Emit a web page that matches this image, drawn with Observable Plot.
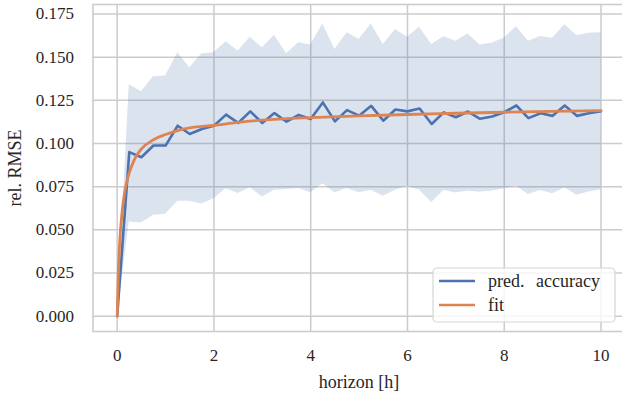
<!DOCTYPE html>
<html><head><meta charset="utf-8">
<script src="https://cdn.jsdelivr.net/npm/d3@7"></script>
<script src="https://cdn.jsdelivr.net/npm/@observablehq/plot@0.6"></script>
<style>
body{margin:0;background:#fff;overflow:hidden}
#chart svg{font-family:"Liberation Serif",serif}
</style>
</head><body><div id="chart"></div>
<script>
const horizon = [0, 0.25, 0.5, 0.75, 1, 1.25, 1.5, 1.75, 2, 2.25, 2.5, 2.75, 3, 3.25, 3.5, 3.75, 4, 4.25, 4.5, 4.75, 5, 5.25, 5.5, 5.75, 6, 6.25, 6.5, 6.75, 7, 7.25, 7.5, 7.75, 8, 8.25, 8.5, 8.75, 9, 9.25, 9.5, 9.75, 10];
const accuracy = [0, 0.095, 0.092, 0.0988, 0.0988, 0.1103, 0.1055, 0.1084, 0.1103, 0.1167, 0.1119, 0.1186, 0.1119, 0.1176, 0.1126, 0.1165, 0.1142, 0.1238, 0.1128, 0.1193, 0.1161, 0.1218, 0.1132, 0.1197, 0.1186, 0.1203, 0.1113, 0.118, 0.1152, 0.1185, 0.1143, 0.1156, 0.1181, 0.122, 0.1147, 0.1175, 0.116, 0.122, 0.116, 0.1175, 0.1187];
const upper = [0, 0.134, 0.130, 0.1387, 0.1391, 0.1525, 0.1439, 0.152, 0.1525, 0.1589, 0.1535, 0.1616, 0.1554, 0.1627, 0.152, 0.1583, 0.157, 0.1692, 0.1545, 0.1641, 0.1602, 0.1692, 0.1573, 0.166, 0.1616, 0.1673, 0.1573, 0.1618, 0.1592, 0.1634, 0.157, 0.1582, 0.1609, 0.1676, 0.1592, 0.1619, 0.1609, 0.1688, 0.1626, 0.1638, 0.1642];
const lower = [0, 0.0545, 0.054, 0.0584, 0.059, 0.0665, 0.0666, 0.065, 0.068, 0.0738, 0.071, 0.0744, 0.069, 0.0729, 0.0733, 0.0739, 0.0714, 0.0767, 0.0714, 0.0739, 0.0714, 0.0729, 0.0694, 0.0729, 0.0752, 0.0729, 0.0658, 0.0728, 0.0713, 0.0725, 0.0717, 0.0725, 0.0738, 0.0752, 0.0705, 0.0728, 0.0709, 0.0744, 0.07, 0.0719, 0.0732];
const fitHorizon = [0, 0.02, 0.05, 0.1, 0.15, 0.2, 0.25, 0.3, 0.4, 0.5, 0.75, 1, 1.25, 1.5, 2, 2.5, 3, 4, 5, 6, 7, 8, 9, 10];
const fitValue = [0, 0.022, 0.042, 0.060, 0.071, 0.078, 0.083, 0.087, 0.093, 0.0968, 0.1022, 0.1052, 0.1075, 0.109, 0.1105, 0.1122, 0.1135, 0.115, 0.116, 0.1168, 0.1175, 0.1181, 0.1186, 0.119];
const xTicks = [0, 2, 4, 6, 8, 10];
const yTicks = [0, 0.025, 0.05, 0.075, 0.1, 0.125, 0.15, 0.175];
const xLabel = "horizon [h]";
const yLabel = "rel. RMSE";
const seriesNames = ["pred. accuracy", "fit"];
const colors = ["#4c72b0", "#dd8452"];

const data = horizon.map((h, i) => ({h, acc: accuracy[i], lo: lower[i], hi: upper[i]}));
const fit = fitHorizon.map((h, i) => ({h, v: fitValue[i]}));
const ink = "#262626";

const plot = Plot.plot({
  width: 622, height: 398,
  marginLeft: 92.5, marginRight: -2.7, marginTop: 4, marginBottom: 67,
  style: {fontFamily: "'Liberation Serif', serif", fontSize: "17px", background: "#fff", color: ink},
  x: {domain: [-0.5, 10.5]},
  y: {domain: [-0.0089, 0.1805]},
  marks: [
    Plot.gridX({ticks: xTicks, stroke: "#cccccc", strokeOpacity: 1, strokeWidth: 1.5}),
    Plot.gridY({ticks: yTicks, stroke: "#cccccc", strokeOpacity: 1, strokeWidth: 1.5}),
    Plot.areaY(data, {x: "h", y1: "lo", y2: "hi", fill: colors[0], fillOpacity: 0.2}),
    Plot.line(data, {x: "h", y: "acc", stroke: colors[0], strokeWidth: 2.6}),
    Plot.line(fit, {x: "h", y: "v", stroke: colors[1], strokeWidth: 2.8, curve: "monotone-x"}),
    Plot.frame({stroke: "#cccccc", strokeWidth: 1.6}),
    Plot.axisX({ticks: xTicks, tickSize: 0, tickPadding: 17, label: null, tickFormat: d => String(d), fill: ink}),
    Plot.axisY({ticks: yTicks, tickSize: 0, tickPadding: 19, label: null, tickFormat: d => d.toFixed(3), fill: ink}),
    Plot.text([xLabel], {frameAnchor: "bottom", dy: 51, lineAnchor: "middle", textAnchor: "middle", fontSize: 18, text: d => d, fill: ink}),
    Plot.text([yLabel], {frameAnchor: "left", dx: -78, rotate: -90, lineAnchor: "middle", textAnchor: "middle", fontSize: 18, text: d => d, fill: ink})
  ]
});
document.getElementById("chart").appendChild(plot);

// legend inside the plot area (lower right)
const svg = d3.select(plot);
const lg = svg.append("g").attr("text-anchor", "start");
lg.append("rect").attr("x", 433).attr("y", 268).attr("width", 182).attr("height", 54)
  .attr("rx", 4).attr("fill", "#fff").attr("fill-opacity", 0.8)
  .attr("stroke", "#d6d6d6").attr("stroke-width", 1.2);
seriesNames.forEach((name, i) => {
  const yy = 281 + i * 24;
  lg.append("line").attr("x1", 439).attr("x2", 475).attr("y1", yy).attr("y2", yy)
    .attr("stroke", colors[i]).attr("stroke-width", 2.6);
  lg.append("text").attr("x", 488).attr("y", yy + 6).attr("fill", ink)
    .attr("text-anchor", "start")
    .attr("font-size", 18).attr("word-spacing", 7).text(name);
});
</script>
</body></html>
